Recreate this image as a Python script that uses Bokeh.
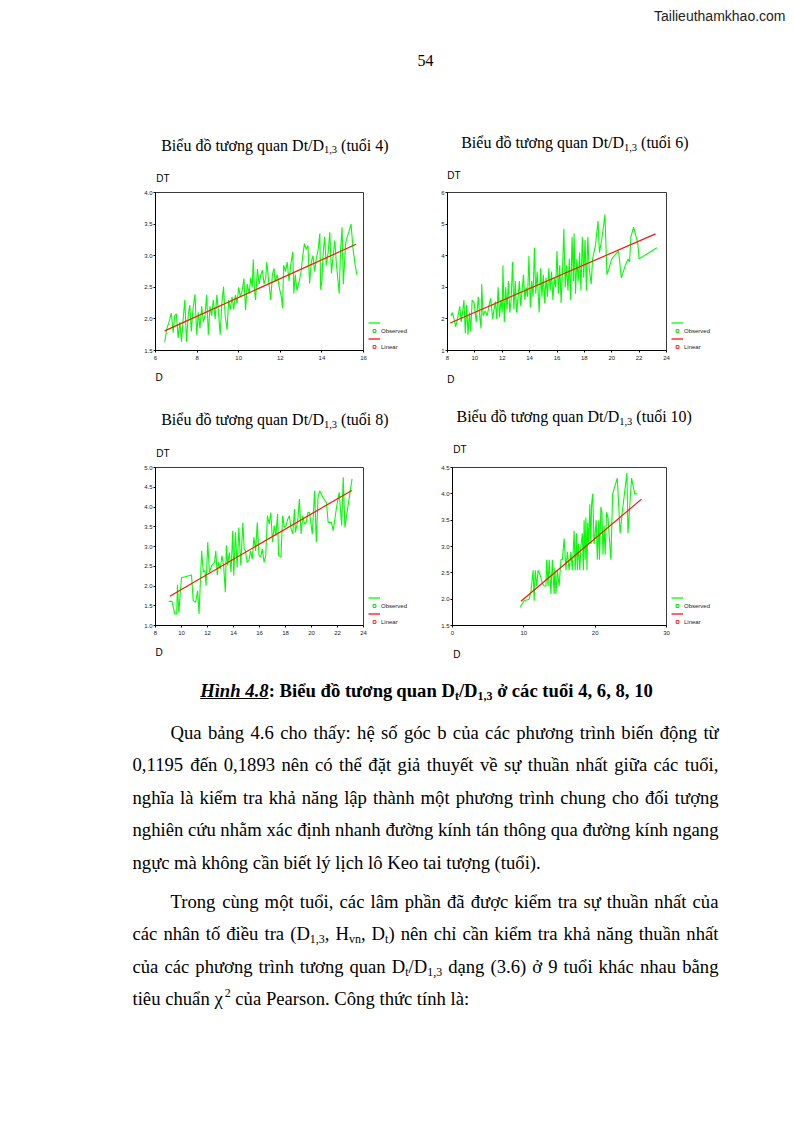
import unicodedata
from collections import defaultdict
from bokeh.plotting import figure
from bokeh.models import Range1d, Legend, LegendItem, Spacer, FixedTicker, ColumnDataSource
from bokeh.layouts import column, row
from bokeh.embed import file_html
from bokeh.resources import INLINE
from bokeh.core.properties import value

# ---------------------------------------------------------------- data
age4_d = [6.44, 6.55, 6.65, 6.76, 6.85, 6.92, 7.0, 7.09, 7.17, 7.25, 7.33, 7.41, 7.49, 7.57, 7.65, 7.72,
          7.8, 7.9, 7.98, 8.06, 8.14, 8.22, 8.3, 8.38, 8.46, 8.54, 8.62, 8.7, 8.78, 8.87, 8.95, 9.03,
          9.11, 9.19, 9.27, 9.35, 9.44, 9.52, 9.6, 9.68, 9.76, 9.84, 9.92, 10.0, 10.08, 10.17, 10.25,
          10.33, 10.41, 10.5, 10.58, 10.65, 10.7, 10.76, 10.81, 10.9, 10.98, 11.06, 11.14, 11.22, 11.3,
          11.35, 11.44, 11.54, 11.62, 11.7, 11.75, 11.85, 11.95, 12.05, 12.11, 12.16, 12.25, 12.33,
          12.42, 12.5, 12.6, 12.65, 12.72, 12.8, 12.92, 13.0, 13.08, 13.16, 13.25, 13.33, 13.41, 13.49,
          13.57, 13.65, 13.73, 13.82, 13.9, 13.94, 14.0, 14.05, 14.13, 14.21, 14.3, 14.38, 14.46, 14.54,
          14.62, 14.7, 14.76, 14.83, 14.9, 14.97, 15.03, 15.14, 15.22, 15.3, 15.4, 15.5, 15.6, 15.68]
age4_dt = [1.63, 1.85, 1.95, 2.09, 1.78, 2.05, 2.08, 1.70, 1.95, 1.64, 2.0, 2.30, 1.64, 2.05, 2.22, 1.80,
           2.15, 2.39, 1.75, 2.10, 1.85, 2.20, 1.95, 2.05, 2.38, 1.75, 2.20, 2.05, 2.30, 2.00, 2.38, 2.10,
           1.75, 2.25, 2.51, 2.05, 1.83, 2.30, 2.15, 2.35, 2.15, 2.38, 2.25, 2.50, 2.35, 2.45, 2.64,
           2.14, 2.55, 2.40, 2.65, 2.50, 2.94, 2.45, 2.30, 2.79, 2.55, 2.70, 2.77, 2.55, 2.65,
           2.90, 2.60, 2.30, 2.70, 2.80, 2.59, 2.70, 2.50, 2.35, 2.17, 2.85, 2.75, 2.90,
           2.60, 2.85, 3.06, 2.40, 2.70, 2.45, 2.61, 2.75, 3.00, 3.19, 3.10, 3.16, 2.56, 2.90,
           3.00, 2.75, 2.95, 3.10, 3.35, 2.46, 2.60, 2.98, 3.30, 2.85, 3.05, 3.37, 2.72, 3.00,
           3.24, 2.85, 2.65, 2.40, 3.10, 3.45, 2.55, 3.19, 3.30, 3.38, 3.50, 3.10, 2.85, 2.70]
age4_fit_d = [6.44, 15.64]
age4_fit_dt = [1.81, 3.18]

age6_d = [8.25, 8.35, 8.45, 8.6, 8.75, 8.9, 9.0, 9.1, 9.2, 9.3, 9.4, 9.5, 9.6, 9.7, 9.8, 9.95, 10.1,
          10.25, 10.35, 10.45, 10.5, 10.6, 10.75, 10.9, 11.05, 11.15, 11.3, 11.4, 11.5, 11.6, 11.7,
          11.8, 11.9, 12.0, 12.05, 12.15, 12.25, 12.35, 12.45, 12.55, 12.65, 12.75, 12.85, 12.95,
          13.05, 13.15, 13.25, 13.35, 13.45, 13.55, 13.65, 13.75, 13.85, 13.95, 14.05, 14.15, 14.25,
          14.35, 14.45, 14.55, 14.65, 14.7, 14.8, 14.9, 15.0, 15.1, 15.2, 15.3, 15.4, 15.5, 15.6,
          15.7, 15.8, 15.9, 16.0, 16.1, 16.2, 16.3, 16.4, 16.5, 16.6, 16.7, 16.8, 16.9, 17.0, 17.1,
          17.2, 17.25, 17.35, 17.45, 17.55, 17.65, 17.75, 17.85, 17.95, 18.05, 18.15, 18.25, 18.35,
          18.5, 18.6, 18.8, 19.0, 19.1, 19.3, 19.5, 19.65, 19.8, 20.0, 20.5, 20.7, 21.0, 21.2, 21.3,
          21.4, 21.6, 21.9, 22.0, 23.3]
age6_dt = [2.1, 2.2, 2.05, 1.75, 2.05, 2.4, 1.9, 2.2, 2.6, 1.55, 2.45, 1.5, 2.2, 1.6, 2.6, 2.5, 1.9,
           2.7, 2.1, 1.7, 3.1, 2.1, 2.25, 2.1, 2.45, 2.65, 2.0, 2.3, 2.55, 2.0, 3.0,
           2.05, 2.6, 2.2, 3.7, 1.9, 3.0, 2.3, 3.2, 2.2, 2.6, 3.8, 2.3, 3.2,
           2.2, 2.65, 3.2, 2.4, 2.9, 3.4, 2.6, 3.0, 2.7, 4.0, 2.35, 3.2, 2.7,
           4.25, 2.8, 3.5, 2.6, 2.2, 3.6, 2.7, 3.4, 2.5, 3.3, 2.7, 3.6, 2.9, 3.5,
           2.6, 3.3, 3.0, 4.15, 2.8, 3.7, 2.5, 3.5, 4.85, 3.0, 3.7, 2.9, 3.9, 2.6, 4.6,
           3.2, 4.7, 2.8, 3.9, 3.2, 4.1, 2.9, 4.6, 3.3, 4.5, 2.9, 4.6, 3.6,
           3.1, 3.9, 4.3, 5.1, 4.1, 4.6, 5.3, 3.4, 3.6, 3.9, 4.15, 3.3, 3.7, 3.9, 3.8,
           4.6, 4.9, 4.4, 3.9, 4.25]
age6_fit_d = [8.2, 23.2]
age6_fit_dt = [1.87, 4.69]

age8_d = [9.01, 9.27, 9.48, 9.63, 9.69, 9.79, 10.0, 10.77, 10.9, 11.09, 11.24, 11.35, 11.55, 11.68,
          11.81, 11.89, 12.02, 12.15, 12.33, 12.54, 12.64, 12.75, 12.85, 12.98, 13.11, 13.24, 13.37,
          13.45, 13.55, 13.68, 13.81, 13.94, 14.02, 14.15, 14.28, 14.41, 14.56, 14.72, 14.82, 14.92,
          15.05, 15.18, 15.31, 15.44, 15.57, 15.7, 15.83, 15.96, 16.09, 16.22, 16.35, 16.48, 16.61,
          16.74, 16.87, 17.0, 17.13, 17.26, 17.39, 17.47, 17.65, 17.78, 17.91, 18.04, 18.17, 18.3,
          18.43, 18.56, 18.69, 18.76, 18.94, 19.07, 19.2, 19.33, 19.46, 19.59, 19.72, 19.85, 20.06,
          20.24, 20.37, 20.5, 20.63, 20.89, 21.15, 21.28, 21.54, 21.67, 21.93, 22.13, 22.32, 22.44,
          22.57, 22.7, 23.12]
age8_dt = [1.61, 1.61, 1.29, 1.29, 2.03, 1.33, 2.21, 2.28, 1.63, 1.59, 1.88, 1.29, 2.89, 2.35,
           2.39, 2.01, 3.11, 2.35, 2.52, 2.60, 2.89, 2.28, 2.60, 2.43, 2.77, 2.52, 1.84,
           3.03, 2.52, 2.85, 2.35, 3.40, 2.26, 3.36, 2.47, 3.48, 2.52, 3.61, 2.94, 2.89,
           2.60, 2.64, 2.89, 2.68, 3.23, 2.89, 3.61, 2.77, 2.73, 2.94, 2.60, 2.77, 3.78,
           3.57, 3.86, 3.11, 3.53, 3.28, 3.82, 2.77, 2.73, 3.78, 3.48, 3.53, 3.69, 3.78,
           3.44, 3.32, 3.95, 3.36, 3.65, 4.20, 3.32, 3.78, 3.57, 3.61, 3.86, 3.86, 3.32,
           4.41, 3.11, 4.24, 4.41, 4.24, 4.11, 3.61, 3.61, 3.40, 4.00, 4.37, 3.53, 4.75,
           3.48, 3.78, 4.71]
age8_fit_d = [9.1, 23.1]
age8_fit_dt = [1.74, 4.42]

age10_d = [9.5, 10.05, 10.75, 11.0, 11.3, 11.45, 11.6, 11.8, 12.0, 12.3, 12.6, 12.85, 13.1, 13.2, 13.4,
           13.55, 13.8, 14.0, 14.25, 14.35, 14.5, 14.7, 14.95, 15.2, 15.4, 15.65, 15.9, 16.1, 16.35,
           16.6, 16.8, 17.05, 17.2, 17.4, 17.5, 17.65, 17.85, 18.0, 18.2, 18.35, 18.45, 18.6, 18.7,
           18.85, 18.95, 19.1, 19.25, 19.4, 19.5, 19.65, 19.85, 20.0, 20.15, 20.3, 20.5, 20.6, 20.8,
           20.95, 21.1, 21.25, 21.4, 21.6, 21.8, 22.2, 22.45, 23.1, 23.5, 23.8, 24.45, 24.6, 25.1,
           25.55, 25.9]
age10_dt = [1.85, 1.97, 2.0, 2.15, 2.55, 1.97, 2.55, 2.25, 2.55, 2.45, 2.3, 2.25, 2.25, 2.75, 2.25,
            2.75, 2.1, 2.75, 2.1, 2.6, 2.1, 2.55, 2.25, 2.75, 2.75, 3.15, 2.55, 2.9, 2.55,
            2.9, 2.55, 3.3, 2.55, 3.25, 2.55, 3.05, 2.55, 3.0, 3.25, 2.55, 3.5, 2.75, 3.55,
            2.55, 3.45, 3.05, 3.8, 3.05, 3.8, 4.0, 3.05, 3.25, 3.5, 2.75, 3.5, 2.75, 3.75,
            3.65, 2.85, 3.4, 2.85, 3.65, 3.55, 2.75, 4.0, 4.3, 3.25, 3.65, 4.4, 3.25, 4.3,
            4.0, 4.0]
age10_fit_d = [9.6, 26.5]
age10_fit_dt = [1.96, 3.9]

age4_x_ticks = [6, 8, 10, 12, 14, 16]
age4_y_ticks = [1.5, 2.0, 2.5, 3.0, 3.5, 4.0]
age6_x_ticks = [8, 10, 12, 14, 16, 18, 20, 22, 24]
age6_y_ticks = [1, 2, 3, 4, 5, 6]
age8_x_ticks = [8, 10, 12, 14, 16, 18, 20, 22, 24]
age8_y_ticks = [1.0, 1.5, 2.0, 2.5, 3.0, 3.5, 4.0, 4.5, 5.0]
age10_x_ticks = [0, 10, 20, 30]
age10_y_ticks = [1.5, 2.0, 2.5, 3.0, 3.5, 4.0, 4.5]

chart_ages = ["4", "6", "8", "10"]
title_main = "Biểu đồ tương quan Dt/D"
title_sub = "1,3"
y_label = "DT"
x_label = "D"
legend_labels = ["Observed", "Linear"]

watermark = "Tailieuthamkhao.com"
page_number = "54"

caption_runs = [("Hình 4.8", "bi", 0), (": Biểu đồ tương quan D", "b", 0), ("t", "bs", 1),
                ("/D", "b", 0), ("1,3", "bs", 1), (" ở các tuổi 4, 6, 8, 10", "b", 0)]

body_lines = [
    [("Qua bảng 4.6 cho thấy: hệ số góc b của các phương trình biến động từ", "r", 0)],
    [("0,1195 đến 0,1893 nên có thể đặt giả thuyết về sự thuần nhất giữa các tuổi,", "r", 0)],
    [("nghĩa là kiểm tra khả năng lập thành một phương trình chung cho đối tượng", "r", 0)],
    [("nghiên cứu nhằm xác định nhanh đường kính tán thông qua đường kính ngang", "r", 0)],
    [("ngực mà không cần biết lý lịch lô Keo tai tượng (tuổi).", "r", 0)],
    [("Trong cùng một tuổi, các lâm phần đã được kiểm tra sự thuần nhất của", "r", 0)],
    [("các nhân tố điều tra (D", "r", 0), ("1,3", "s", 1), (", H", "r", 0), ("vn", "s", 1),
     (", D", "r", 0), ("t", "s", 1), (") nên chỉ cần kiểm tra khả năng thuần nhất", "r", 0)],
    [("của các phương trình tương quan D", "r", 0), ("t", "s", 1), ("/D", "r", 0), ("1,3", "s", 1),
     (" dạng (3.6) ở 9 tuổi khác nhau bằng", "r", 0)],
    [("tiêu chuẩn χ", "r", 0), ("2", "s", -1), (" của Pearson. Công thức tính là:", "r", 0)],
]
body_indent = [True, False, False, False, False, True, False, False, False]
body_justify = [True, True, True, True, False, True, True, True, False]

# ---------------------------------------------------------------- text metrics (Times)
REG = {' ': 250, '(': 333, ')': 333, ',': 250, '.': 250, '/': 278, ':': 278, 'χ': 549,
       'A': 722, 'B': 667, 'C': 667, 'D': 722, 'E': 611, 'F': 556, 'G': 722, 'H': 722, 'I': 333,
       'K': 722, 'L': 611, 'M': 889, 'N': 722, 'O': 722, 'P': 556, 'Q': 722, 'R': 667, 'S': 556,
       'T': 611, 'U': 722, 'V': 722, 'W': 944, 'X': 722, 'Y': 722,
       'a': 444, 'b': 500, 'c': 444, 'd': 500, 'e': 444, 'f': 333, 'g': 500, 'h': 500, 'i': 278,
       'j': 278, 'k': 500, 'l': 278, 'm': 778, 'n': 500, 'o': 500, 'p': 500, 'q': 500, 'r': 333,
       's': 389, 't': 278, 'u': 500, 'v': 500, 'w': 722, 'x': 500, 'y': 500, 'z': 444}
BOLD = dict(REG)
BOLD.update({':': 333, 'H': 778, 'b': 556, 'd': 556, 'h': 556, 'n': 556, 'q': 556, 'r': 444,
             't': 333, 'u': 556, 'a': 500, 'p': 556, 'k': 556, 'l': 278, 'm': 833})
for ch in "0123456789":
    REG[ch] = 500
    BOLD[ch] = 500


def text_width(s, size, bold=False):
    table = BOLD if bold else REG
    total = 0
    for c in s:
        if c in table:
            total += table[c]
            continue
        if c == "đ":
            total += table['d']
            continue
        dec = unicodedata.normalize("NFD", c)
        w = table.get(dec[0], 500)
        if "\u031b" in dec:
            w += 30
        total += w
    return total * size / 1000.0


SERIF = "Liberation Serif"
SANS = "Liberation Sans"
PAGE_W = 794

STYLE = {"r": ("normal", False, 1.0), "b": ("bold", True, 1.0), "bi": ("bold italic", True, 1.0),
         "s": ("normal", False, 0.64), "bs": ("bold", True, 0.64)}


class Canvas:
    """A figure whose data units are the page's pixels (y grows downward)."""

    def __init__(self, y_top, y_bottom):
        p = figure(width=PAGE_W, height=y_bottom - y_top, x_range=Range1d(0, PAGE_W),
                   y_range=Range1d(y_bottom, y_top), x_axis_type=None, y_axis_type=None,
                   output_backend="svg", toolbar_location=None, min_border=0)
        p.outline_line_color = None
        p.background_fill_color = "white"
        p.border_fill_color = "white"
        self.p = p
        self.items = defaultdict(lambda: ([], [], []))

    def put(self, x, y, s, size, font=SERIF, style="normal", align="left", color="black"):
        xs, ys, ts = self.items[(size, font, style, align, color)]
        xs.append(x)
        ys.append(y)
        ts.append(s)

    def flush(self):
        for (size, font, style, align, color), (xs, ys, ts) in self.items.items():
            self.p.text(x=xs, y=ys, text=ts, text_font=value(font), text_font_size=f"{size}px",
                        text_font_style=style, text_align=align, text_baseline="middle",
                        text_color=color)
        return self.p


def words_of(runs):
    words = [[]]
    for s, st, shift in runs:
        parts = s.split(" ")
        for i, part in enumerate(parts):
            if i > 0:
                words.append([])
            if part:
                words[-1].append((part, st, shift))
    return [w for w in words if w]


def seg_w(seg, size):
    s, st, _ = seg
    _, bold, scale = STYLE[st]
    return text_width(s, size * scale, bold)


def put_line(cv, x_left, y, runs, size, justify_to=None, underline_first=False):
    words = words_of(runs)
    widths = [sum(seg_w(g, size) for g in w) for w in words]
    bold0 = STYLE[words[0][0][1]][1]
    space = text_width(" ", size, bold0)
    gap = space
    if justify_to is not None and len(words) > 1:
        gap = (justify_to - x_left - sum(widths)) / (len(words) - 1)
    cx = x_left
    for wi, (w, ww) in enumerate(zip(words, widths)):
        sx = cx
        for s, st, shift in w:
            style, bold, scale = STYLE[st]
            fs = round(size * scale, 2)
            dy = 0.27 * size if shift > 0 else (-0.27 * size if shift < 0 else 0)
            cv.put(sx, y + dy, s, fs, SERIF, style)
            sx += text_width(s, fs, bold)
        cx += ww + gap
    if underline_first:
        first = runs[0][0]
        bold = STYLE[runs[0][1]][1]
        w = text_width(first, size, bold)
        cv.p.segment(x0=[x_left], y0=[y + 8], x1=[x_left + w], y1=[y + 8], line_color="black",
                     line_width=1)


def chart_title(cv, x, y, age):
    fs = 16
    cv.put(x, y, title_main, fs)
    x2 = x + text_width(title_main, fs)
    cv.put(x2, y + 4.5, title_sub, 10.5)
    x3 = x2 + text_width(title_sub, 10.5) + text_width(" ", fs)
    cv.put(x3, y, f"(tuổi {age})", fs)


def chart(d, dt, fd, fdt, xr, yr, xticks, yticks, ydec, fw, fh, left, top, bottom, right=5):
    p = figure(width=left + fw + right, height=top + fh + bottom, x_range=Range1d(*xr),
               y_range=Range1d(*yr), output_backend="svg", toolbar_location=None,
               min_border_left=left, min_border_right=right, min_border_top=top,
               min_border_bottom=bottom)
    p.grid.visible = False
    p.background_fill_color = "white"
    p.border_fill_color = "white"
    p.outline_line_color = "#3a3a3a"
    p.outline_line_width = 1
    p.xaxis.ticker = FixedTicker(ticks=xticks)
    p.yaxis.ticker = FixedTicker(ticks=yticks)
    p.yaxis.major_label_overrides = {t: (f"{t:.1f}" if ydec else f"{t:g}") for t in yticks}
    p.xaxis.major_label_overrides = {t: f"{t:g}" for t in xticks}
    for ax in (p.xaxis[0], p.yaxis[0]):
        ax.axis_line_color = "black"
        ax.major_tick_line_color = "black"
        ax.major_tick_out = 2
        ax.major_tick_in = 0
        ax.minor_tick_out = 0
        ax.minor_tick_in = 0
        ax.major_label_text_font = SANS
        ax.major_label_text_font_size = "6px"
        ax.major_label_text_color = "#222222"
    p.xaxis.major_label_standoff = 3
    p.yaxis.major_label_standoff = 1
    p.line(d, dt, line_color="#00ff00", line_width=1.1)
    p.line(fd, fdt, line_color="#ff1010", line_width=1.2)
    return p


NAN = float("nan")


def legend_box(width, height):
    p = figure(width=width, height=height, x_range=Range1d(0, 1), y_range=Range1d(0, 1),
               x_axis_type=None, y_axis_type=None, output_backend="svg", toolbar_location=None,
               min_border=0)
    p.outline_line_color = None
    p.background_fill_color = "white"
    p.border_fill_color = "white"
    # key-only renderers: their single point is NaN, so they draw nothing but their legend key
    src = ColumnDataSource(data=dict(x=[NAN], y=[NAN]))
    gl = p.line("x", "y", source=src, line_color="#00ff00", line_width=1.3)
    gs = p.scatter("x", "y", source=src, marker="square", size=4, line_color="#00dd00",
                   fill_color="white")
    rl = p.line("x", "y", source=src, line_color="#ff1010", line_width=1.3)
    rs = p.scatter("x", "y", source=src, marker="square", size=4, line_color="#ff2020",
                   fill_color="white")
    leg = Legend(items=[LegendItem(label=" ", renderers=[gl]),
                        LegendItem(label=legend_labels[0], renderers=[gs]),
                        LegendItem(label=" ", renderers=[rl]),
                        LegendItem(label=legend_labels[1], renderers=[rs])],
                 location=(0, 0), margin=0, padding=0, spacing=1, glyph_width=12,
                 glyph_height=7, label_height=7, label_standoff=1, label_text_font=SANS,
                 label_text_font_size="6px", label_text_color="#222222",
                 border_line_color=None, background_fill_alpha=0)
    p.add_layout(leg, "center")
    return p


# ---------------------------------------------------------------- page parts
ROW_H = 183
top = Canvas(0, 185)
top.put(785, 15, watermark, 14, SANS, align="right", color="#222222")
top.put(425, 60, page_number, 16, SERIF, align="center")
chart_title(top, 160.7, 144.6, chart_ages[0])
chart_title(top, 460.7, 142.3, chart_ages[1])
top.put(155.7, 178.2, y_label, 10, SANS)
top.put(446.7, 174.8, y_label, 10, SANS)

c1 = chart(age4_d, age4_dt, age4_fit_d, age4_fit_dt, (6, 16), (1.5, 4.0), age4_x_ticks, age4_y_ticks,
           True, 208, 158, 35, 7, 18)
c2 = chart(age6_d, age6_dt, age6_fit_d, age6_fit_dt, (8, 24), (1, 6), age6_x_ticks, age6_y_ticks,
           False, 219, 162, 35, 5, 16)
l1 = legend_box(44, ROW_H)
l2 = legend_box(45, ROW_H)

mid = Canvas(368, 460)
mid.put(155, 377.2, x_label, 10, SANS)
mid.put(446.7, 379.2, x_label, 10, SANS)
chart_title(mid, 160.7, 419.0, chart_ages[2])
chart_title(mid, 456, 416, chart_ages[3])
mid.put(155.7, 452.5, y_label, 10, SANS)
mid.put(452.7, 449.2, y_label, 10, SANS)

c3 = chart(age8_d, age8_dt, age8_fit_d, age8_fit_dt, (8, 24), (1.0, 5.0), age8_x_ticks, age8_y_ticks,
           True, 208, 158, 35, 7, 18)
c4 = chart(age10_d, age10_dt, age10_fit_d, age10_fit_dt, (0, 30), (1.5, 4.5), age10_x_ticks,
           age10_y_ticks, True, 214, 164, 40, 4, 15)
l3 = legend_box(44, ROW_H)
l4 = legend_box(45, ROW_H)

bottom = Canvas(643, 1123)
bottom.put(155, 651.5, x_label, 10, SANS)
bottom.put(452.7, 653.5, x_label, 10, SANS)
cap_size = 18.67
cap_w = sum(seg_w(g, cap_size) for w in words_of(caption_runs) for g in w) + \
    (len(words_of(caption_runs)) - 1) * text_width(" ", cap_size, True)
put_line(bottom, 426 - cap_w / 2, 690, caption_runs, cap_size, underline_first=True)

line_mid = [732, 764, 797, 829, 862, 901, 933, 966, 998]
for runs, ind, just, ym in zip(body_lines, body_indent, body_justify, line_mid):
    put_line(bottom, 170 if ind else 132, ym, runs, 18.67, justify_to=718 if just else None)

layout = column(top.flush(),
                row(Spacer(width=120, height=ROW_H), c1, l1, c2, l2),
                mid.flush(),
                row(Spacer(width=120, height=ROW_H), c3, l3, c4, l4),
                bottom.flush())

open("out.html", "w").write(file_html(layout, INLINE))
